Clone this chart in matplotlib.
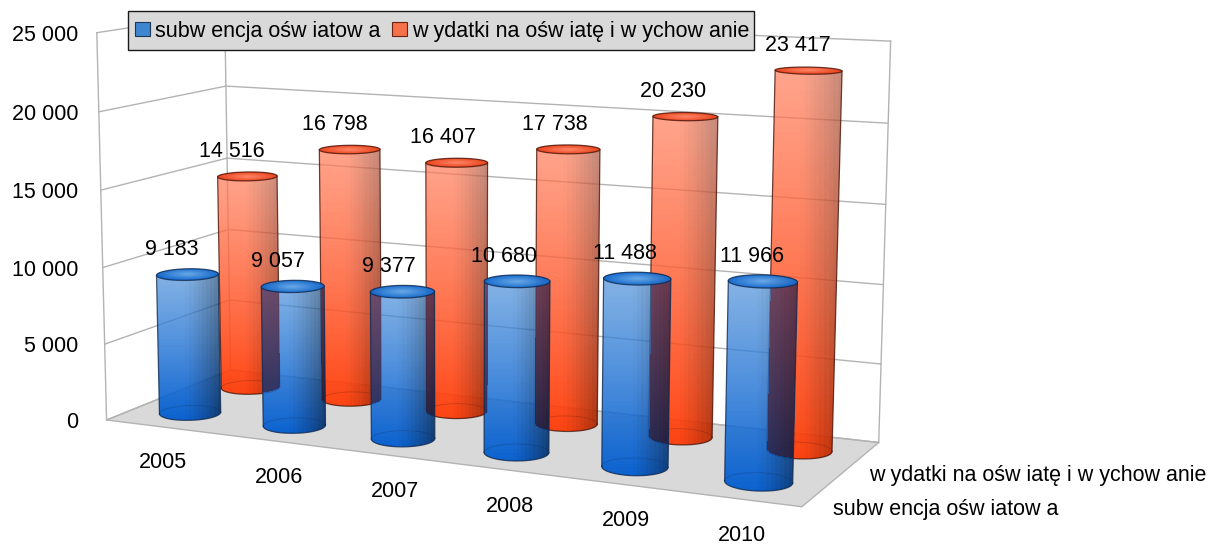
import numpy as np
import matplotlib
matplotlib.use("Agg")
import matplotlib.pyplot as plt
from matplotlib.patches import Patch, Polygon, Rectangle
from matplotlib.path import Path

plt.rcParams['font.family'] = ['Liberation Sans', 'DejaVu Sans']

years = ['2005', '2006', '2007', '2008', '2009', '2010']
subwencja = [9183, 9057, 9377, 10680, 11488, 11966]
wydatki = [14516, 16798, 16407, 17738, 20230, 23417]
value_ticks = [0, 5000, 10000, 15000, 20000, 25000]
value_labels = ['0', '5 000', '10 000', '15 000', '20 000', '25 000']
name_sub = 'subw encja ośw iatow a'
name_wyd = 'w ydatki na ośw iatę i w ychow anie'

GRID = '#b3b3b3'
RADIUS = 0.255

anchors = [
    ((0, 0, 0), (106.7, 420)), ((0, 2, 0), (230.5, 370)),
    ((6, 2, 0), (879, 442)), ((6, 0, 0), (802, 507)),
    ((0, 0, 25000), (96.7, 33)), ((0, 2, 25000), (225, 13)),
    ((6, 2, 25000), (890.7, 41)),
    ((0, 0, 10000), (102.7, 267)), ((0, 2, 10000), (228, 230)),
    ((6, 2, 10000), (883, 285)),
]


def fit_projection(pairs):
    rows, rhs = [], []
    for (x, y, z), (u, v) in pairs:
        z = z / 1000
        rows.append([x, y, z, 1, 0, 0, 0, 0, -u*x, -u*y, -u*z])
        rows.append([0, 0, 0, 0, x, y, z, 1, -v*x, -v*y, -v*z])
        rhs += [u, v]
    sol = np.linalg.lstsq(np.array(rows, float), np.array(rhs, float), rcond=None)[0]
    return np.append(sol, 1).reshape(3, 4)


P = fit_projection(anchors)


def project(x, y, z):
    x, y, z = np.broadcast_arrays(x, y, np.asarray(z, float) / 1000)
    w = np.stack([x, y, z, np.ones_like(x, dtype=float)])
    a = P @ w
    return a[0] / a[2], a[1] / a[2]


def ellipse(cx, cy, z):
    t = np.linspace(0, 2*np.pi, 120, endpoint=False)
    u, v = project(cx + RADIUS*np.cos(t), cy + RADIUS*np.sin(t), z)
    return np.column_stack([u, v])


def arcs(pts):
    pts = np.roll(pts, -np.argmin(pts[:, 0]), axis=0)
    j = np.argmax(pts[:, 0])
    a = pts[:j+1]
    b = np.vstack([pts[j:], pts[:1]])
    if a[:, 1].mean() > b[:, 1].mean():
        return a, b          # front, back
    return b, a


def silhouette(i, depth, value):
    cx, cy = i + 0.5, depth + 0.5
    _, top_back = arcs(ellipse(cx, cy, value))
    bot_front, _ = arcs(ellipse(cx, cy, 0))
    if top_back[0, 0] > top_back[-1, 0]:
        top_back = top_back[::-1]
    if bot_front[0, 0] < bot_front[-1, 0]:
        bot_front = bot_front[::-1]
    return np.vstack([top_back, bot_front])


def body_image(tl, bl, tr, br):
    h = np.linspace(0, 1, 120)[:, None, None]
    s = np.clip((np.linspace(0, 1, 16) - 0.42) / 0.58, 0, 1)[None, :, None] ** 1.2
    tl, bl, tr, br = [np.array(c, float)[None, None, :] / 255 for c in (tl, bl, tr, br)]
    left = tl*(1-h) + bl*h
    right = tr*(1-h) + br*h
    rgb = left*(1-s) + right*s
    alpha = (0.7 + 0.25*h) * np.ones_like(rgb[:, :, :1])
    return np.dstack([rgb, alpha])


def top_image(edge, centre):
    g = np.linspace(-1, 1, 50)
    xx, yy = np.meshgrid(g, g)
    r = np.clip(np.sqrt(xx**2 + yy**2), 0, 1)[:, :, None]
    edge, centre = np.array(edge, float)/255, np.array(centre, float)/255
    return edge*r + centre*(1-r)


def draw_cylinder(ax, i, depth, value, style, zorder, behind=()):
    cx, cy = i + 0.5, depth + 0.5
    top = ellipse(cx, cy, value)
    bot_front, bot_back = arcs(ellipse(cx, cy, 0))
    outline = silhouette(i, depth, value)

    l, r = outline[:, 0].min(), outline[:, 0].max()
    t, b = outline[:, 1].min(), outline[:, 1].max()
    clip = Polygon(outline, closed=True, transform=ax.transData)
    im = ax.imshow(body_image(*style['body']), extent=(l, r, b, t), aspect='auto',
                   interpolation='nearest', zorder=zorder)
    im.set_clip_path(clip)

    # where the front cylinder passes over a back one the colours multiply
    if len(behind):
        nx, ny = int(r - l) + 1, int(b - t) + 1
        xs, ys = np.meshgrid(np.linspace(l, r, nx), np.linspace(t, b, ny))
        grid = np.column_stack([xs.ravel(), ys.ravel()])
        mask = np.zeros(len(grid), bool)
        for other in behind:
            mask |= Path(other).contains_points(grid)
        h = np.linspace(0, 1, ny)[:, None, None]
        rgb = np.array([110, 30, 50])[None, None, :]/255*(1-h) + np.array([35, 10, 20])[None, None, :]/255*h
        rgb = np.broadcast_to(rgb, (ny, nx, 3))
        over = np.dstack([rgb, mask.reshape(ny, nx) * 0.55])
        im3 = ax.imshow(over, extent=(l, r, b, t), aspect='auto',
                        interpolation='bilinear', zorder=zorder)
        im3.set_clip_path(Polygon(outline, closed=True, transform=ax.transData))

    ax.plot(*bot_back.T, color=style['line'], lw=0.6, alpha=0.25, zorder=zorder)
    ax.plot(*bot_front.T, color=style['line'], lw=0.9, alpha=0.8, zorder=zorder)

    # left and right edge
    half = len(outline) - len(bot_front)
    ax.plot(outline[[0, -1], 0], outline[[0, -1], 1], color=style['line'], lw=0.9,
            alpha=0.8, zorder=zorder)
    ax.plot(outline[[half-1, half], 0], outline[[half-1, half], 1], color=style['line'],
            lw=0.9, alpha=0.8, zorder=zorder)

    tl, tr = top[:, 0].min(), top[:, 0].max()
    tt, tb = top[:, 1].min(), top[:, 1].max()
    im2 = ax.imshow(top_image(*style['top']), extent=(tl, tr, tb, tt), aspect='auto',
                    interpolation='bilinear', zorder=zorder, alpha=0.95)
    im2.set_clip_path(Polygon(top, closed=True, transform=ax.transData))
    ax.add_patch(Polygon(top, closed=True, fill=False, ec=style['line'], lw=0.9,
                         alpha=0.8, zorder=zorder))


blue = {
    'body': ((83, 148, 219), (0, 92, 208), (34, 76, 119), (2, 50, 113)),
    'top': ((20, 105, 205), (105, 170, 232)),
    'line': '#0f2a50',
}
red = {
    'body': ((255, 126, 91), (255, 60, 8), (176, 91, 69), (165, 39, 2)),
    'top': ((235, 65, 25), (255, 135, 105)),
    'line': '#4a1408',
}

fig = plt.figure(figsize=(12.09, 5.44), dpi=100)
ax = fig.add_axes([0, 0, 1, 1])

# floor
floor = np.column_stack(project([0, 0, 6, 6], [0, 2, 2, 0], 0))
ax.add_patch(Polygon(floor, closed=True, fc='#d9d9d9', ec=GRID, lw=1, zorder=1))

# walls and gridlines
for val in value_ticks:
    us, vs = project([0, 0, 6], [0, 2, 2], val)
    ax.plot(us, vs, color=GRID, lw=1, zorder=1.5)
for x, y in [(0, 0), (0, 2), (6, 2)]:
    us, vs = project([x, x], [y, y], [0, value_ticks[-1]])
    ax.plot(us, vs, color=GRID, lw=1, zorder=1.5)

z = 2
red_outlines = []
for i, val in enumerate(wydatki):
    draw_cylinder(ax, i, 1, val, red, z)
    red_outlines.append(silhouette(i, 1, val))
    z += 0.01
for i, val in enumerate(subwencja):
    draw_cylinder(ax, i, 0, val, blue, z, behind=red_outlines)
    z += 0.01

# value labels above the cylinders
for depth, series in [(1, wydatki), (0, subwencja)]:
    for i, val in enumerate(series):
        u, v = project(i + 0.5, depth + 0.5, val)
        ax.text(float(u) - 16 + i, float(v) - 25, f'{val:,}'.replace(',', ' '),
                ha='center', va='center', fontsize=15.5, zorder=10, color='black')

# value axis labels
for val, lab in zip(value_ticks, value_labels):
    u, v = project(0, 0, val)
    ax.text(78, float(v) + 2.5, lab, ha='right', va='center', fontsize=15.5, zorder=10)

# category labels
for i, y in enumerate(years):
    ax.text(163 + 115.8*i, 462.5 + 14.6*i, y, ha='center', va='center',
            fontsize=15.5, zorder=10)

# depth axis labels
ax.text(869.5, 476, name_wyd, ha='left', va='center', fontsize=15.5, zorder=10)
ax.text(833, 509, name_sub, ha='left', va='center', fontsize=15.5, zorder=10)

# legend: the grey box is taller than a legend frame would be for this font
ax.add_patch(Rectangle((128, 10.5), 626, 39.5, fc='#d9d9d9', ec='#1a1a1a', lw=1, zorder=19))
handles = [Patch(fc='#3f86d0', ec='#1d3557', lw=0.8, label=name_sub),
           Patch(fc='#f5714a', ec='#6a2412', lw=0.8, label=name_wyd)]
leg = ax.legend(handles=handles, ncol=2, loc='upper left', frameon=False,
                bbox_to_anchor=(135/1209, 1 - 20.5/544), bbox_transform=fig.transFigure,
                fontsize=15.5, borderaxespad=0, borderpad=0,
                handlelength=0.68, handleheight=0.68, handletextpad=0.27, columnspacing=0.52)
leg.set_zorder(20)

ax.set_xlim(0, 1209)
ax.set_ylim(544, 0)
ax.axis('off')

fig.savefig('out.png', dpi=100)
